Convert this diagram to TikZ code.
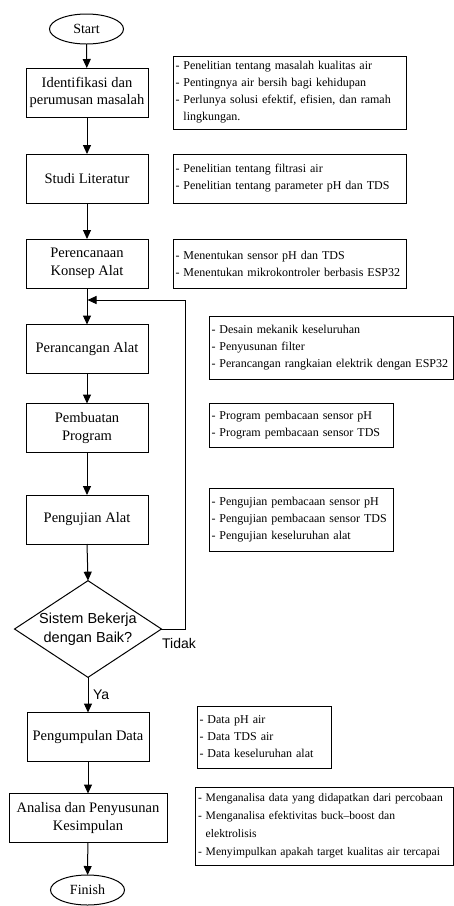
\documentclass[tikz,border=0pt]{standalone}
\usepackage{fontspec}
\setmainfont{Liberation Serif}
\setsansfont{Liberation Sans}
\usetikzlibrary{shapes.geometric,arrows.meta}
\hyphenpenalty=10000
\exhyphenpenalty=10000
\begin{document}
\begin{tikzpicture}[x=1pt,y=-1pt,
  every node/.style={inner sep=0pt, outer sep=0pt},
  proc/.style={draw, line width=1pt, minimum width=122pt, minimum height=49pt, align=center, font=\fontsize{14.5}{17.5}\selectfont},
  term/.style={draw, ellipse, line width=1pt, minimum width=74pt, minimum height=30pt, font=\fontsize{14}{17}\selectfont},
  info/.style={draw, line width=1pt, align=left, inner xsep=2.5pt, font=\fontsize{12}{17}\selectfont},
  dec/.style={draw, diamond, line width=1pt, shape aspect=1.52, minimum width=146pt, minimum height=96pt, align=center, font=\sffamily\fontsize{14.5}{19}\selectfont},
  lbl/.style={font=\sffamily\fontsize{14}{17}\selectfont},
  arr/.style={line width=1pt, -{Triangle[length=9pt,width=8pt]}}
]
\useasboundingbox[fill=white] (0,0) rectangle (454,906);

% main flow
\node[term] (start) at (86.5,29) {Start};
\node[proc] (ident) at (87,92.5) {Identifikasi dan\\perumusan masalah};
\node[proc] (studi) at (87,178.5) {Studi Literatur};
\node[proc] (renc) at (87,263.5) {Perencanaan\\Konsep Alat};
\node[proc] (ranc) at (87,349) {Perancangan Alat};
\node[proc] (buat) at (87,428) {Pembuatan\\Program};
\node[proc] (uji) at (87,519.5) {Pengujian Alat};
\node[dec] (cek) at (88,629) {Sistem Bekerja\\dengan Baik?};
\node[proc] (kumpul) at (88,737) {Pengumpulan Data};
\node[proc, minimum width=158pt] (anal) at (88,818) {Analisa dan Penyusunan\\Kesimpulan};
\node[term] (fin) at (87.5,890) {Finish};

% info boxes
\node[info, text width=228pt, minimum height=73pt] (i1) at (289.5,92.5) {- Penelitian tentang masalah kualitas air\\- Pentingnya air bersih bagi kehidupan\\- Perlunya solusi efektif, efisien, dan ramah\\\phantom{- }lingkungan.};
\node[info, text width=228pt, minimum height=49pt] (i2) at (289.5,178.5) {- Penelitian tentang filtrasi air\\- Penelitian tentang parameter pH dan TDS};
\node[info, text width=228pt, minimum height=49pt] (i3) at (289.5,263.5) {- Menentukan sensor pH dan TDS\\- Menentukan mikrokontroler berbasis ESP32};
\node[info, text width=239pt, minimum height=63pt] (i4) at (331,347.5) {- Desain mekanik keseluruhan\\- Penyusunan filter\\- Perancangan rangkaian elektrik dengan ESP32};
\node[info, text width=179pt, minimum height=44pt] (i5) at (301,425) {- Program pembacaan sensor pH\\- Program pembacaan sensor TDS};
\node[info, text width=179pt, minimum height=63pt] (i6) at (301,519.5) {- Pengujian pembacaan sensor pH\\- Pengujian pembacaan sensor TDS\\- Pengujian keseluruhan alat};
\node[info, text width=129pt, minimum height=62pt] (i7) at (264,737) {- Data pH air\\- Data TDS air\\- Data keseluruhan alat};
\node[info, text width=253pt, minimum height=78pt, font=\fontsize{11.6}{18}\selectfont] (i8) at (324.5,826) {- Menganalisa data yang didapatkan dari percobaan\\- Menganalisa efektivitas buck--boost dan\\\phantom{- }elektrolisis\\- Menyimpulkan apakah target kualitas air tercapai};

% connectors
\draw[arr] (start) -- (ident);
\draw[arr] (ident) -- (studi);
\draw[arr] (studi) -- (renc);
\draw[arr] (renc) -- (ranc);
\draw[arr] (ranc) -- (buat);
\draw[arr] (buat) -- (uji);
\draw[arr] (uji.south) -- (cek.north);
\draw[arr] (cek.south) -- node[lbl, anchor=west, xshift=5pt] {Ya} (kumpul.north);
\draw[arr] (kumpul) -- (anal);
\draw[arr] (anal) -- (fin);

\coordinate (loopr) at (185,300);
\coordinate (loopin) at (87.5,300);
\draw[arr] (cek.east) -| (loopr) -- (loopin);
\node[lbl] (tidak) at (179,643) {Tidak};
\end{tikzpicture}
\end{document}
